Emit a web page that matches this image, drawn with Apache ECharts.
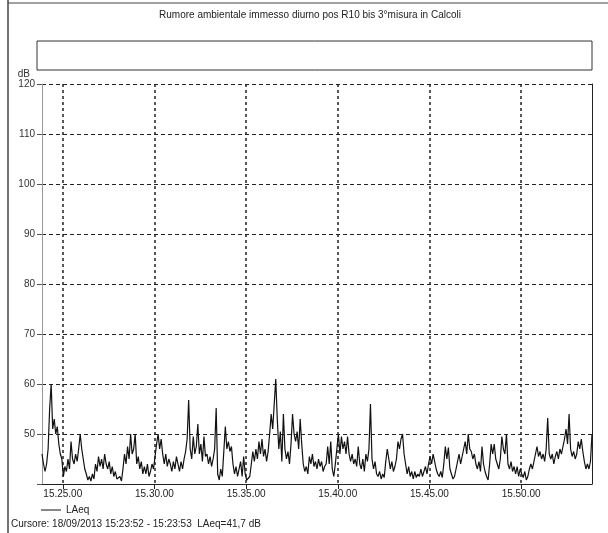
<!DOCTYPE html>
<html>
<head>
<meta charset="utf-8">
<script src="https://cdn.jsdelivr.net/npm/echarts@6/dist/echarts.min.js"></script>
<style>
html,body{margin:0;padding:0;background:#fff;}
#c{width:608px;height:533px;}
</style>
</head>
<body>
<div id="c"></div>
<script>
const titleText = 'Rumore ambientale immesso diurno pos R10 bis 3°misura in Calcoli';
const cursorText = 'Cursore: 18/09/2013 15:23:52 - 15:23:53  LAeq=41,7 dB';
const seriesName = 'LAeq';
const startSec = 15 * 3600 + 23 * 60 + 52;
const stepSec = 5;
const durationSec = 1800;
const xTickSecs = [55500, 55800, 56100, 56400, 56700, 57000];
const xTickLabels = ['15.25.00', '15.30.00', '15.35.00', '15.40.00', '15.45.00', '15.50.00'];
const yMin = 40, yMax = 120, yStep = 10;

const laeq = [
  46, 44, 42.5, 44, 47, 55, 60, 51, 53, 50,
  51.5, 48, 46, 45, 41.5, 43.5, 42.5, 45, 43, 48.5,
  45, 44, 46, 44.5, 47, 50, 47, 45, 43, 42,
  40.8, 41.5, 40.6, 42, 41, 44, 42.5, 45.5, 43.5, 45,
  43, 46, 44, 43, 44.5, 42, 43.5, 41.5, 42.5, 41,
  40.7, 41.5, 40.6, 43, 46, 44, 47.5, 45, 50, 46,
  47, 50, 44, 45.5, 43, 44.5, 42, 43.5, 42, 44,
  41.5, 42.5, 44, 43, 45.5, 48, 50, 47, 49, 46,
  44, 46, 43.5, 45, 44, 42.5, 44.5, 43, 45.5, 44,
  42.5, 44.5, 43, 45, 46.5, 49, 56.8, 47, 45, 49.5,
  46, 47.5, 52, 46, 48, 44.5, 49.5, 45.5, 46, 44,
  45.5, 43.5, 45, 47, 55.2, 42, 40.8, 43, 41.5, 46.5,
  51.5, 47, 48.5, 46.5, 47.5, 44, 42, 43.5, 41.5, 43,
  44.5, 41.5, 45.5, 42, 40.8, 40.5, 41.5, 44, 46.5, 44.5,
  47, 45, 48.5, 46, 49, 45.5, 47, 44.5, 46.5, 50,
  54, 51, 56, 61, 53, 47, 50.5, 44.5, 54, 47,
  45, 46.5, 44, 48, 54, 50, 48.5, 50.5, 47, 53,
  48, 44, 42.5, 43.5, 42, 45.5, 44, 46, 43.5, 44.5,
  43, 45, 43.5, 44.5, 42.5, 43.5, 44, 47.5, 44, 48.5,
  43, 41.5, 44, 47, 50, 46, 49.5, 47, 48.5, 46,
  49.5, 46, 44.5, 46, 44, 45, 43.5, 47.5, 44, 43,
  45, 42.5, 46, 44.5, 47, 56, 45, 43, 44.5, 42,
  41.5, 42.5, 41, 42, 41.3, 44.5, 47, 45, 43, 44.5,
  42.5, 43.5, 45, 48.5, 47, 49, 50, 46, 44, 42,
  43.5, 41.5, 42.5, 41, 42.5, 41.3, 42, 41.5, 43, 41.5,
  42.5, 43.5, 42, 44, 45.5, 44, 46, 44.5, 43, 42,
  41.5, 42.5, 41.3, 44, 47.5, 45, 47.3, 43, 42, 41,
  41.5, 43, 44.5, 46, 44, 45.5, 47, 48.5, 46, 50,
  47, 46.5, 45, 46, 44, 43, 44.5, 42.5, 47.5, 44,
  42.5, 41.5, 40.8, 44, 48, 46, 48, 45, 44, 43,
  45, 49.5, 47, 46, 50, 44, 43, 44.5, 42.5, 43.5,
  42, 43.5, 41.5, 43, 42, 41.3, 42.5, 40.8, 41.5, 43,
  44, 43, 44.5, 46, 47.5, 45.5, 46.5, 45, 46, 44.5,
  47, 53.2, 46, 45, 46, 44, 45.5, 46.5, 45, 47,
  46, 47.5, 49, 51, 48, 54, 47, 45.5, 46.5, 45,
  46, 48.5, 47, 49, 46.5, 44.5, 43, 44, 43, 44.5, 50
];

const seriesData = laeq.map((v, i) => [startSec + i * stepSec, v]);
const FONT = "'Liberation Sans Narrow', 'Liberation Sans', Arial, sans-serif";

const chart = echarts.init(document.getElementById('c'), null, {renderer: 'canvas'});
chart.setOption({
  animation: false,
  backgroundColor: '#fff',
  title: {
    text: titleText,
    left: 305, textAlign: 'center', top: 5,
    textStyle: {fontSize: 10, fontWeight: 'normal', color: '#222', fontFamily: FONT}
  },
  legend: {
    data: [seriesName],
    left: 36, top: 500,
    itemWidth: 20, itemHeight: 10, itemGap: 4,
    icon: 'path://M0,5L20,5L20,6L0,6Z',
    textStyle: {fontSize: 10, color: '#222', fontFamily: FONT}
  },
  grid: {left: 42, right: 16, top: 84, height: 400, containLabel: false},
  xAxis: {
    type: 'value', min: startSec, max: startSec + durationSec,
    axisLine: {show: true, lineStyle: {color: '#222', width: 1}},
    axisTick: {show: true, customValues: xTickSecs, length: 5, lineStyle: {color: '#222'}},
    axisLabel: {
      customValues: xTickSecs,
      formatter: v => xTickLabels[xTickSecs.indexOf(v)] || '',
      fontSize: 10, color: '#222', fontFamily: FONT, margin: 5
    },
    splitLine: {show: true, lineStyle: {color: '#222', width: 1.5, type: [3, 3]}}
  },
  yAxis: [{
    type: 'value', min: yMin, max: yMax, interval: yStep,
    name: 'dB', nameLocation: 'end', nameGap: 5,
    nameTextStyle: {fontSize: 10, color: '#333', fontFamily: FONT, align: 'right', padding: [0, 12, 0, 0]},
    axisLine: {show: true, lineStyle: {color: '#999', width: 1}},
    axisTick: {show: true, length: 5, lineStyle: {color: '#555'}},
    axisLabel: {
      fontSize: 10, color: '#333', fontFamily: FONT, margin: 7,
      formatter: v => (v === yMin ? '' : String(v))
    },
    splitLine: {show: true, lineStyle: {color: '#222', width: 1, type: [4, 3]}}
  }, {
    type: 'value', min: yMin, max: yMax, interval: yStep, position: 'right',
    axisLine: {show: true, lineStyle: {color: '#222', width: 1}},
    axisTick: {show: false}, axisLabel: {show: false}, splitLine: {show: false}
  }],
  series: [{
    name: seriesName, type: 'line', data: seriesData,
    showSymbol: false, symbol: 'none',
    lineStyle: {color: '#111', width: 1.2},
    itemStyle: {color: '#111'}
  }],
  graphic: [
    {type: 'rect', shape: {x: 37, y: 41, width: 555, height: 29},
     style: {fill: '#fff', stroke: '#333', lineWidth: 1}},
    {type: 'line', shape: {x1: 8, y1: 0, x2: 8, y2: 533}, style: {stroke: '#444', lineWidth: 1.5}},
    {type: 'line', shape: {x1: 8, y1: 3, x2: 608, y2: 3}, style: {stroke: '#444', lineWidth: 1}},
    {type: 'text', left: 11, top: 519,
     style: {text: cursorText, fontSize: 10, fill: '#222', fontFamily: FONT}}
  ]
});
</script>
</body>
</html>
